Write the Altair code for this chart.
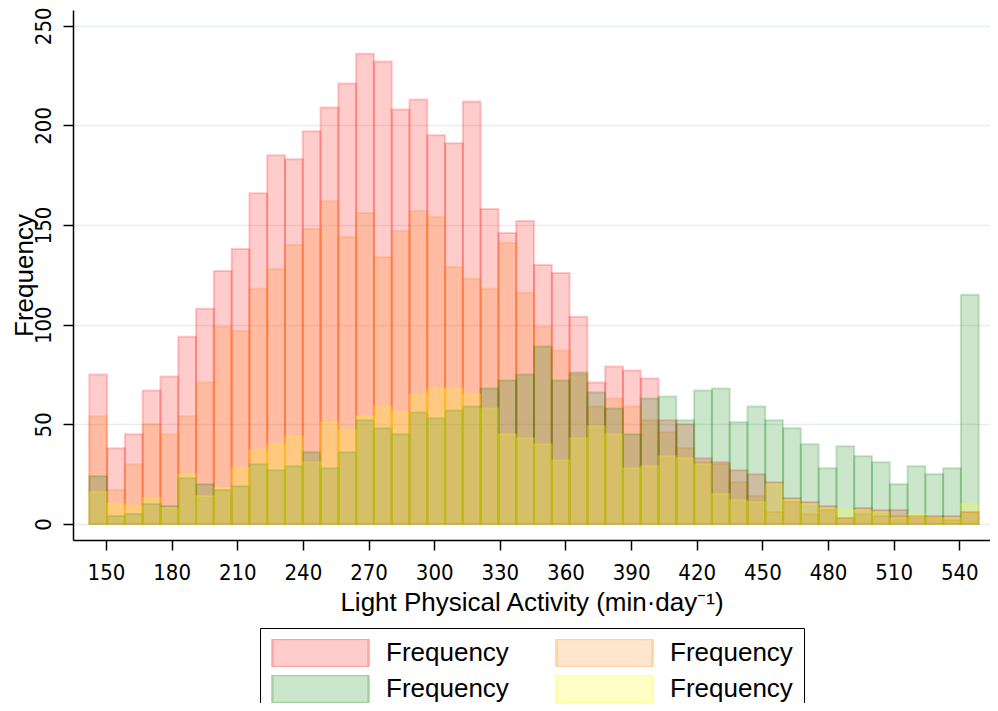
import altair as alt
import pandas as pd

# Histogram bins (min·day^-1)
bin_start = 142.37
bin_width = 8.13

# Counts per bin for the four overlaid histograms (drawn in this order)
pink = [75, 38, 45, 67, 74, 94, 108, 127, 138, 166, 185, 183, 197, 209, 221, 236, 232, 208, 213, 195,
        191, 212, 158, 146, 152, 130, 126, 104, 71, 79, 77, 73, 52, 50, 33, 31, 27, 25, 21, 13,
        11, 9, 3, 8, 7, 7, 4, 4, 4, 6]
orange = [54, 17, 30, 50, 45, 54, 71, 99, 97, 118, 128, 140, 148, 162, 144, 156, 134, 147, 157, 154,
          129, 123, 118, 141, 116, 99, 87, 75, 59, 63, 59, 52, 46, 38, 31, 30, 21, 14, 6, 11,
          5, 7, 3, 5, 4, 4, 3, 3, 2, 6]
green = [24, 4, 5, 10, 9, 23, 20, 17, 19, 30, 27, 29, 36, 28, 36, 52, 48, 45, 56, 53,
         57, 59, 68, 72, 75, 89, 72, 76, 66, 58, 45, 63, 64, 52, 67, 68, 51, 59, 52, 48,
         40, 28, 39, 34, 31, 20, 29, 25, 28, 115]
yellow = [16, 10, 9, 13, 8, 25, 14, 18, 28, 37, 40, 44, 31, 51, 47, 54, 59, 56, 65, 68,
          68, 65, 58, 45, 43, 40, 32, 43, 49, 45, 28, 29, 34, 33, 30, 15, 12, 11, 20, 12,
          10, 8, 7, 7, 6, 3, 5, 3, 3, 10]

series_names = ["s1", "s2", "s3", "s4"]
series_colors = ["#ff0000", "#ff7f00", "#008000", "#ffff00"]
# legend swatches: the same colours as seen at 20% over white (fill) and edge
legend_fills = ["#ffcccc", "#ffe5cc", "#cce6cc", "#ffffc8"]
legend_strokes = ["#ffa3a3", "#ffd1a3", "#a3d1a3", "#ffff9c"]
legend_label = "Frequency"

x_ticks = [150, 180, 210, 240, 270, 300, 330, 360, 390, 420, 450, 480, 510, 540]
y_ticks = [0, 50, 100, 150, 200, 250]

rows = []
for name, counts in zip(series_names, [pink, orange, green, yellow]):
    for i, c in enumerate(counts):
        lo = bin_start + i * bin_width
        rows.append({"series": name, "lo": lo, "hi": lo + bin_width, "count": c})
df = pd.DataFrame(rows)

NARROW = "'Liberation Sans Narrow', 'Arial Narrow', 'DejaVu Sans Condensed', sans-serif"
REG = "'Liberation Sans', Arial, sans-serif"

legend_kwargs = dict(
    title=None,
    orient="none",
    legendX=187,
    legendY=618,
    direction="horizontal",
    columns=2,
    symbolType="M-1,-0.2917H1V0.2917H-1Z",
    symbolSize=9216,
    symbolStrokeWidth=2.5,
    clipHeight=28,
    labelFontSize=26,
    labelFont=REG,
    labelColor="black",
    labelExpr="'" + legend_label + "'",
    labelOffset=16,
    columnPadding=46,
    rowPadding=8,
    padding=11,
    strokeColor="black",
)
try:
    _props = alt.Legend.resolve_references().get("properties", {})
    if "strokeWidth" in _props:
        legend_kwargs["strokeWidth"] = 1.5
except Exception:
    pass
legend = alt.Legend(**legend_kwargs)

x_enc = alt.X("lo:Q",
              scale=alt.Scale(domain=[134.917, 554.03], nice=False, zero=False),
              axis=alt.Axis(values=x_ticks, grid=False, title="Light Physical Activity (min·day⁻¹)",
                            labelFont=NARROW, labelFontSize=22, labelPadding=29,
                            labelBaseline="alphabetic", labelFlush=False, labelOverlap=False,
                            tickSize=10, titleFont=REG, titleFontSize=26, titleFontWeight="normal",
                            titleBaseline="alphabetic", titleY=70))
y_enc = alt.Y("count:Q",
              scale=alt.Scale(domain=[-8.03, 257.9], nice=False, zero=False),
              axis=alt.Axis(values=y_ticks, grid=True, title="Frequency",
                            labelFont=NARROW, labelFontSize=22, labelAngle=-90,
                            labelAlign="center", labelBaseline="alphabetic", labelPadding=13,
                            labelOverlap=False, tickSize=10, titleFont=REG, titleFontSize=26,
                            titleFontWeight="normal", titleBaseline="alphabetic",
                            titleX=-41, titleY=265, titleAlign="center"))

bars = alt.Chart(df).mark_rect(
    fillOpacity=0.2, strokeOpacity=0.2, strokeWidth=2
).encode(
    x=x_enc,
    x2="hi:Q",
    y=y_enc,
    y2=alt.datum(0),
    fill=alt.Fill("series:N", scale=alt.Scale(domain=series_names, range=series_colors), legend=None),
    stroke=alt.Stroke("series:N", scale=alt.Scale(domain=series_names, range=series_colors), legend=None),
)

legend_layer = alt.Chart(df).transform_filter("false").mark_rect().encode(
    x=alt.X("lo:Q"),
    x2="hi:Q",
    y=alt.Y("count:Q"),
    y2=alt.datum(0),
    fill=alt.Fill("series:N", scale=alt.Scale(domain=series_names, range=legend_fills), legend=legend),
    stroke=alt.Stroke("series:N", scale=alt.Scale(domain=series_names, range=legend_strokes), legend=legend),
)

chart = alt.layer(bars, legend_layer).resolve_scale(
    fill="independent", stroke="independent"
).properties(
    width=917,
    height=530,
    autosize="none",
    padding={"left": 65, "top": 2, "right": 0, "bottom": 163},
).configure_view(
    strokeWidth=0
).configure_axis(
    domainColor="black",
    domainWidth=1.5,
    tickColor="black",
    tickWidth=1.5,
    labelColor="black",
    titleColor="black",
    gridColor="#e6eef0",
    gridWidth=1.5,
)

chart.save("out.html", embed_options={"renderer": "svg", "actions": False})
